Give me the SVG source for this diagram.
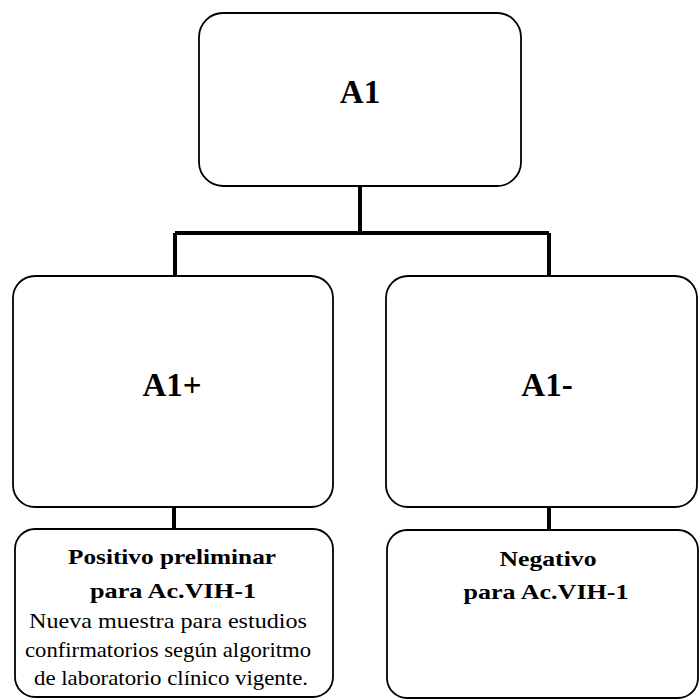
<svg xmlns="http://www.w3.org/2000/svg" width="700" height="700" viewBox="0 0 700 700">
<style>
.box{fill:#fff;stroke:#000;stroke-width:1.8}
.con{stroke:#000;stroke-width:4;fill:none}
.t{font-family:"Liberation Serif","Times New Roman",serif;fill:#000;text-anchor:middle}
.big{font-size:33px;font-weight:bold}
.b{font-size:21px;font-weight:bold}
.r{font-size:21px}
</style>
<rect width="700" height="700" fill="#fff"/>
<g id="connectors">
<path class="con" d="M360,186 V233 M175,233 H549 M175,233 V276 M549,233 V276 M174,507 V529 M549,507 V530"/>
</g>
<g id="n-a1">
<rect class="box" x="199" y="13" width="322" height="173" rx="24"/>
<text class="t big" x="360" y="103">A1</text>
</g>
<g id="n-a1pos">
<rect class="box" x="13" y="276" width="320" height="231" rx="22"/>
<text class="t big" x="172" y="396">A1+</text>
</g>
<g id="n-a1neg">
<rect class="box" x="386" y="276" width="311" height="231" rx="22"/>
<text class="t big" x="547" y="396">A1-</text>
</g>
<g id="n-pos">
<rect class="box" x="15" y="529" width="318" height="168" rx="20"/>
<text class="t b" x="172" y="564" textLength="208" lengthAdjust="spacingAndGlyphs">Positivo preliminar</text>
<text class="t b" x="173" y="598" textLength="166" lengthAdjust="spacingAndGlyphs">para Ac.VIH-1</text>
<text class="t r" x="168" y="628" textLength="278" lengthAdjust="spacingAndGlyphs">Nueva muestra para estudios</text>
<text class="t r" x="168" y="657" textLength="286" lengthAdjust="spacingAndGlyphs">confirmatorios según algoritmo</text>
<text class="t r" x="171" y="685" textLength="274" lengthAdjust="spacingAndGlyphs">de laboratorio clínico vigente.</text>
</g>
<g id="n-neg">
<rect class="box" x="387" y="530" width="311" height="168" rx="20"/>
<text class="t b" x="548" y="566" textLength="97" lengthAdjust="spacingAndGlyphs">Negativo</text>
<text class="t b" x="546" y="599" textLength="165" lengthAdjust="spacingAndGlyphs">para Ac.VIH-1</text>
</g>
</svg>
